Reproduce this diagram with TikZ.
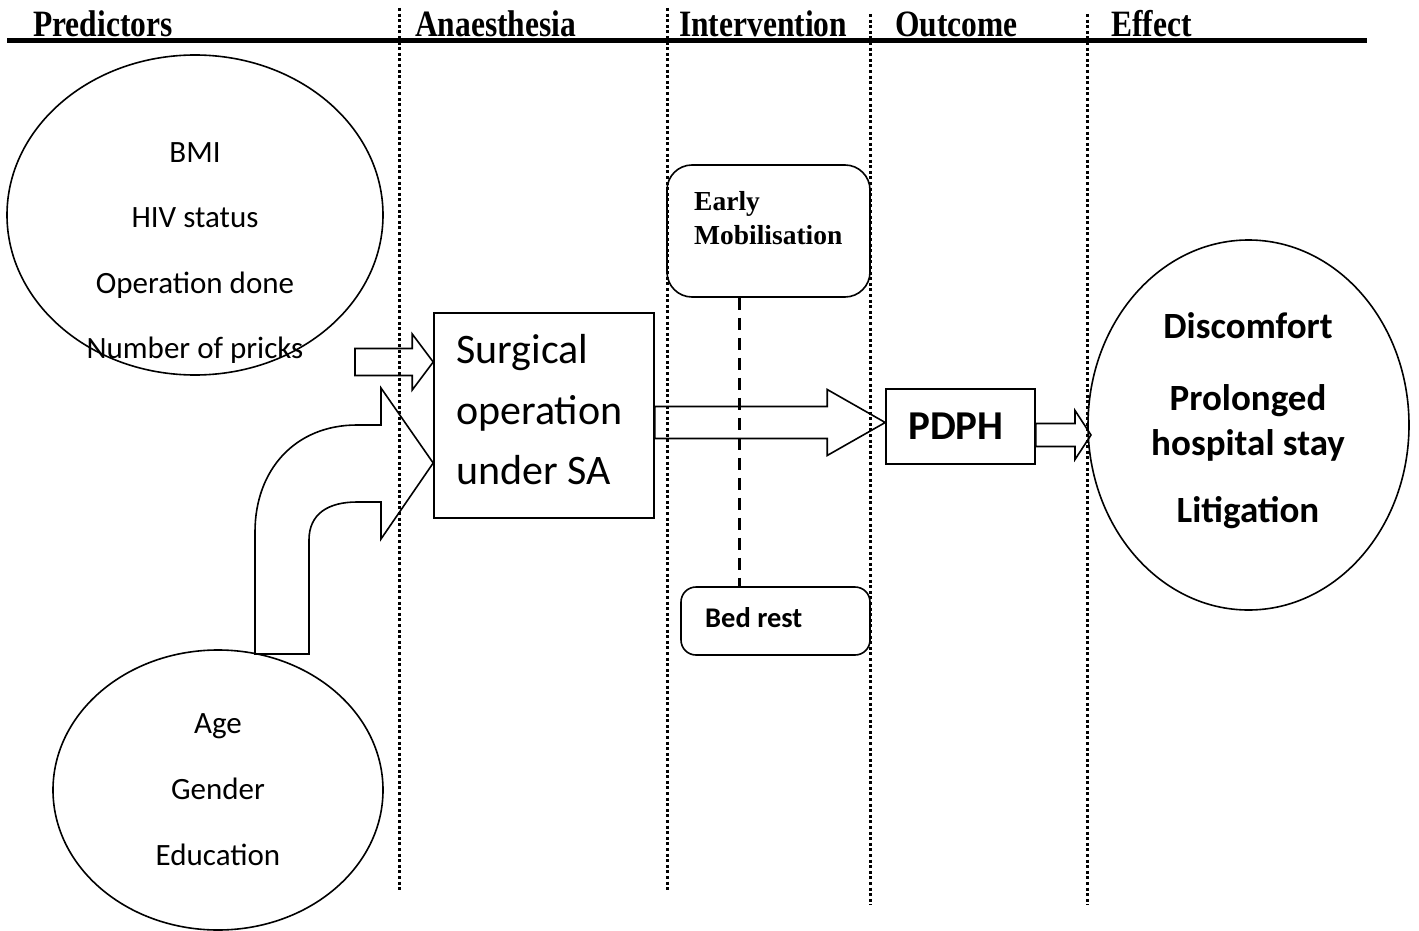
\documentclass[tikz,border=0pt]{standalone}
\usepackage{fontspec}
\setmainfont{Liberation Serif}
\newfontfamily\calib{Carlito}
\usetikzlibrary{shapes.geometric,calc}
\newcommand\hblockarrow[5]{%
  \draw[blk] ($(#1 |- #2)+(0,-#3)$) -- ($(#2)+(-#5,-#3)$) -- ($(#2)+(-#5,-#4)$)
    -- (#2) -- ($(#2)+(-#5,#4)$) -- ($(#2)+(-#5,#3)$) -- ($(#1 |- #2)+(0,#3)$) -- cycle;}
\newcommand\hdrtext[1]{\scalebox{1}[1.18]{#1}}
\begin{document}
\begin{tikzpicture}[x=1pt,y=-1pt,
  shp/.style={draw,line width=1.6pt,inner sep=0},
  sep/.style={line width=3pt,dash pattern=on 3pt off 2.6pt},
  dsh/.style={line width=3pt,dash pattern=on 12pt off 8pt},
  blk/.style={draw,line width=1.6pt,line join=miter},
  lbl/.style={anchor=base,inner sep=0},
  reg/.style={font=\calib\fontsize{31}{31}\selectfont},
  bld/.style={font=\calib\bfseries\fontsize{37}{37}\selectfont},
  hdr/.style={anchor=base west,inner sep=0,font=\fontsize{31.5}{31.5}\selectfont\bfseries},
  ]
\useasboundingbox (0,0) rectangle (1419,931);

% header
\draw[line width=5pt] (7,41) -- (1367,41);
\node[hdr] (h1) at (33,37) {\hdrtext{Predictors}};
\node[hdr] (h2) at (415,37) {\hdrtext{Anaesthesia}};
\node[hdr] (h3) at (679,37) {\hdrtext{Intervention}};
\node[hdr] (h4) at (895,37) {\hdrtext{Outcome}};
\node[hdr] (h5) at (1111,37) {\hdrtext{Effect}};

% ellipses
\node[shp,ellipse,minimum width=376,minimum height=320] (pred1) at (195,215) {};
\node[shp,ellipse,minimum width=330,minimum height=280] (pred2) at (218,790) {};
\node[shp,ellipse,minimum width=321,minimum height=370] (eff) at (1248.5,425) {};

\node[lbl,reg] (p11) at (195,162) {BMI};
\node[lbl,reg] (p12) at (195,227) {HIV status};
\node[lbl,reg] (p13) at (195,293) {Operation done};
\node[lbl,reg] (p14) at (195,358) {Number of pricks};

\node[lbl,reg] (p21) at (218,733) {Age};
\node[lbl,reg] (p22) at (218,799) {Gender};
\node[lbl,reg] (p23) at (218,865) {Education};

\node[lbl,bld] (e1) at (1248,338) {Discomfort};
\node[lbl,bld] (e2) at (1248,410) {Prolonged};
\node[lbl,bld] (e3) at (1248,455) {hospital stay};
\node[lbl,bld] (e4) at (1248,522) {Litigation};

% boxes
\node[shp,minimum width=220,minimum height=205] (surg) at (544,415.5) {};
\node[lbl,anchor=base west,font=\calib\fontsize{42}{42}\selectfont] (s1) at (456,363) {Surgical};
\node[lbl,anchor=base west,font=\calib\fontsize{42}{42}\selectfont] (s2) at (456,424) {operation};
\node[lbl,anchor=base west,font=\calib\fontsize{42}{42}\selectfont] (s3) at (456,484) {under SA};

\node[shp,minimum width=149,minimum height=75] (pdph) at (960.5,426.5) {};
\node[lbl,font=\calib\bfseries\fontsize{41}{41}\selectfont] (pt) at (956,439) {PDPH};

\node[shp,rounded corners=25pt,minimum width=203,minimum height=132] (early) at (768.5,231) {};
\node[lbl,anchor=base west,font=\fontsize{27.5}{27.5}\selectfont\bfseries] (em1) at (694,210) {Early};
\node[lbl,anchor=base west,font=\fontsize{27.5}{27.5}\selectfont\bfseries] (em2) at (694,244) {Mobilisation};

\node[shp,rounded corners=15pt,minimum width=189,minimum height=68] (bed) at (775.5,621) {};
\node[lbl,anchor=base west,font=\calib\bfseries\fontsize{28.5}{28.5}\selectfont] (bt) at (705,627) {Bed rest};

% dashed link
\draw[dsh] ([xshift=-29.5pt]early.south) -- ([xshift=-36.5pt]bed.north);

% block arrows
\coordinate (t1) at ([yshift=4pt]pdph.west);
\hblockarrow{surg.east}{t1}{16}{33}{58}
\coordinate (s2a) at (355,362);
\coordinate (t2) at (surg.west |- 0,362);
\hblockarrow{s2a}{t2}{13.5}{28}{21}
\coordinate (t3) at (1091,435);
\hblockarrow{pdph.east}{t3}{11.5}{24.5}{16}

% bent arrow from lower predictors
\coordinate (t4) at (surg.west |- 0,463);
\draw[blk] (255,654) -- (255,532) .. controls (255,470) and (295,425) .. (357,425)
  -- (381,425) -- (381,388) -- (t4) -- (381,539) -- (381,502) -- (357,502)
  .. controls (328,502) and (309,514) .. (309,540) -- (309,654) -- cycle;

% lane separators
\draw[sep] (399,8) -- (399,890);
\draw[sep] (667,8) -- (667,890);
\draw[sep] (870,14) -- (870,905);
\draw[sep] (1087,14) -- (1087,905);
\end{tikzpicture}
\end{document}
